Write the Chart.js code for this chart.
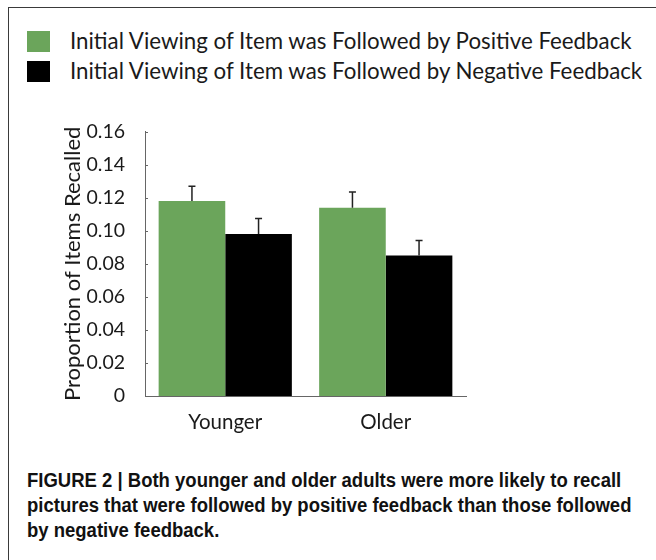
<!DOCTYPE html>
<html>
<head>
<meta charset="utf-8">
<script src="https://cdn.jsdelivr.net/npm/chart.js@4/dist/chart.umd.min.js"></script>
<style>
  html, body { margin: 0; padding: 0; background: #fff; }
  #fig { position: relative; width: 656px; height: 560px; overflow: hidden; background: #fff; }
  #frame { position: absolute; left: 8px; top: 7px; width: 700px; height: 600px;
           border-left: 1px solid #3a3a3a; border-top: 1px solid #3a3a3a; }
  .key { position: absolute; left: 70px; font-family: Lato, "Open Sans", sans-serif;
         font-size: 22.3px; line-height: 25px; color: #1a1a1a; white-space: nowrap; }
  .swatch { position: absolute; left: 27px; width: 23px; height: 21px; }
  #plot { position: absolute; left: 0; top: 100px; width: 656px; height: 350px; }
  #caption { position: absolute; left: 27px; top: 468px;
             font-family: "Liberation Sans", Arial, sans-serif;
             font-weight: bold; font-size: 20px; line-height: 25px; color: #111; white-space: nowrap;
             transform: scaleX(0.925); transform-origin: 0 0; }
</style>
</head>
<body>
<div id="fig">
  <div id="frame"></div>
  <div class="swatch" id="sw0" style="top:31px;"></div>
  <div class="key" id="key0" style="top:28px;"></div>
  <div class="swatch" id="sw1" style="top:61px;"></div>
  <div class="key" id="key1" style="top:58px;"></div>
  <div id="plot"><canvas id="chart" width="656" height="350"></canvas></div>
  <div id="caption">FIGURE 2 | Both younger and older adults were more likely to recall<br>pictures that were followed by positive feedback than those followed<br>by negative feedback.</div>
</div>
<script>
// Age groups on the x axis
const categories = ['Younger', 'Older'];
// Series names
const seriesNames = [
  'Initial Viewing of Item was Followed by Positive Feedback',
  'Initial Viewing of Item was Followed by Negative Feedback'
];
// Mean proportion of items recalled
const positiveValues = [0.118, 0.114];
const negativeValues = [0.098, 0.085];
// Standard errors (drawn upward only)
const positiveErrors = [0.009, 0.0095];
const negativeErrors = [0.0095, 0.0092];
// Y axis tick labels
const yTickLabels = ['0', '0.02', '0.04', '0.06', '0.08', '0.10', '0.12', '0.14', '0.16'];

const colors = ['#6ba55b', '#000000'];
const family = 'Lato, "Open Sans", sans-serif';

// HTML legend
seriesNames.forEach((name, i) => {
  document.getElementById('key' + i).textContent = name;
  document.getElementById('sw' + i).style.background = colors[i];
});

// Upward error bars with small caps
const errorBars = {
  id: 'errorBars',
  afterDatasetsDraw(chart) {
    const ctx = chart.ctx;
    const y = chart.scales.y;
    ctx.save();
    ctx.strokeStyle = '#222';
    ctx.lineWidth = 1.5;
    chart.data.datasets.forEach((ds, di) => {
      const meta = chart.getDatasetMeta(di);
      meta.data.forEach((bar, i) => {
        const top = y.getPixelForValue(ds.data[i] + ds.errors[i]);
        ctx.beginPath();
        ctx.moveTo(bar.x, bar.y);
        ctx.lineTo(bar.x, top);
        ctx.moveTo(bar.x - 3.5, top);
        ctx.lineTo(bar.x + 3.5, top);
        ctx.stroke();
      });
    });
    ctx.restore();
  }
};

// Short tick marks pointing into the plot from the y axis
const innerTicks = {
  id: 'innerTicks',
  afterDraw(chart) {
    const ctx = chart.ctx;
    const y = chart.scales.y;
    const left = chart.chartArea.left;
    ctx.save();
    ctx.strokeStyle = '#666';
    ctx.lineWidth = 1;
    y.ticks.forEach((t, i) => {
      const py = Math.round(y.getPixelForTick(i)) + 0.5;
      ctx.beginPath();
      ctx.moveTo(left, py);
      ctx.lineTo(left + 3, py);
      ctx.stroke();
    });
    ctx.restore();
  }
};

new Chart(document.getElementById('chart'), {
  type: 'bar',
  data: {
    labels: categories,
    datasets: [
      { label: seriesNames[0], data: positiveValues, errors: positiveErrors,
        backgroundColor: colors[0], borderWidth: 0 },
      { label: seriesNames[1], data: negativeValues, errors: negativeErrors,
        backgroundColor: colors[1], borderWidth: 0 }
    ]
  },
  options: {
    responsive: false,
    devicePixelRatio: 1,
    animation: false,
    layout: { padding: { left: 0, right: 190, top: 29, bottom: 14 } },
    datasets: { bar: { barPercentage: 1, categoryPercentage: 0.83 } },
    plugins: { legend: { display: false }, tooltip: { enabled: false } },
    scales: {
      x: {
        grid: { display: false, drawTicks: false },
        border: { display: true, color: '#666', width: 1 },
        ticks: { font: { family, size: 20.5 }, color: '#1a1a1a', padding: 14 },
        afterFit(scale) { scale.height = 40; }
      },
      y: {
        min: 0, max: 0.16,
        grid: { display: false, drawTicks: false },
        border: { display: true, color: '#666', width: 1 },
        ticks: {
          stepSize: 0.02, font: { family, size: 19.5 }, color: '#1a1a1a', padding: 20,
          callback: (v, i) => yTickLabels[i]
        },
        title: {
          display: true, text: 'Proportion of Items Recalled',
          font: { family, size: 22 }, color: '#1a1a1a', padding: { top: 60, bottom: 0 }
        },
        afterFit(scale) { scale.width = 145; }
      }
    }
  },
  plugins: [errorBars, innerTicks]
});
</script>
</body>
</html>
